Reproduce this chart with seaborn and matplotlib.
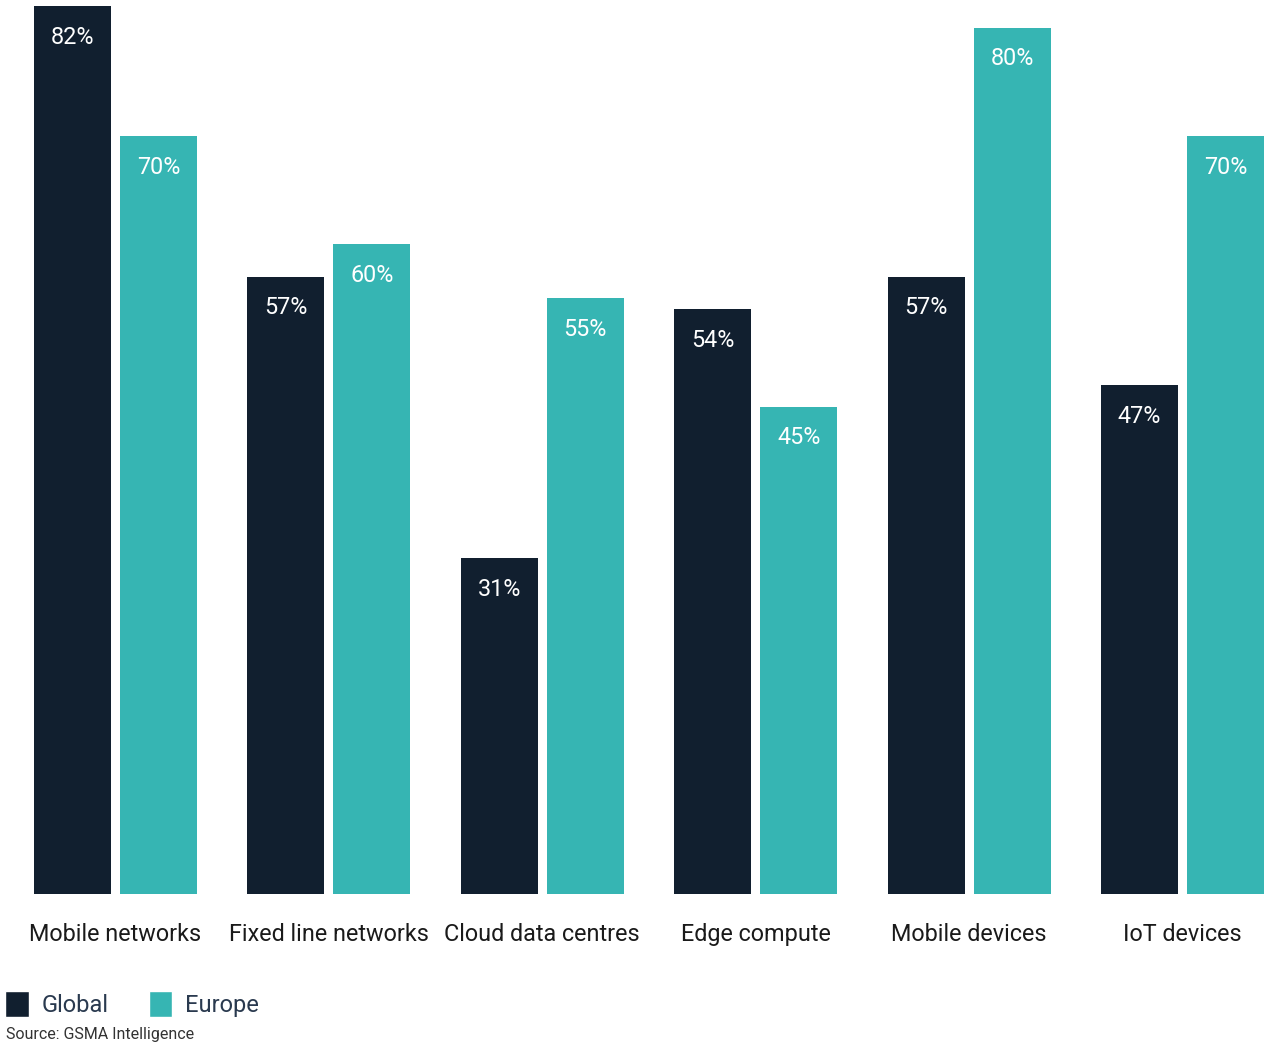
import matplotlib
matplotlib.use("Agg")
import matplotlib.pyplot as plt
from matplotlib.patches import Patch
import seaborn as sns
import pandas as pd

categories = ["Mobile networks", "Fixed line networks", "Cloud data centres",
              "Edge compute", "Mobile devices", "IoT devices"]
global_vals = [82, 57, 31, 54, 57, 47]
europe_vals = [70, 60, 55, 45, 80, 70]
series_names = ["Global", "Europe"]
source_text = "Source: GSMA Intelligence"

NAVY = "#111f2f"
TEAL = "#36b5b3"

df = pd.DataFrame({
    "category": categories * 2,
    "region": [series_names[0]] * len(categories) + [series_names[1]] * len(categories),
    "value": global_vals + europe_vals,
})

sns.set_theme(style="white")
plt.rcParams["font.family"] = ["Roboto", "DejaVu Sans"]

W, H = 1268, 1045
STEP = 213.4  # pixels per category
fig = plt.figure(figsize=(W / 100, H / 100), dpi=100)
ax = fig.add_axes([0, 151 / H, 1, 888 / H])

sns.barplot(data=df, x="category", y="value", hue="region",
            palette=[NAVY, TEAL], width=0.806, gap=0.105,
            saturation=1, legend=False, ax=ax, errorbar=None, linewidth=0)

ax.set_xlim(-115.5 / STEP, (W - 115.5) / STEP)
ax.set_ylim(0, 82)
ax.set_xlabel("")
ax.set_ylabel("")
ax.set_yticks([])
ax.tick_params(axis="x", length=0, pad=21, labelsize=16.8, labelcolor="#1a1a1a")
for s in ax.spines.values():
    s.set_visible(False)

# value labels inside the top of each bar
for container in ax.containers:
    for bar in container:
        h = bar.get_height()
        ax.annotate(f"{h:.0f}%", (bar.get_x() + bar.get_width() / 2, h),
                    xytext=(0, -22.5), textcoords="offset points",
                    ha="center", va="center", color="white", fontsize=16.8)

handles = [Patch(facecolor=NAVY, label=series_names[0]),
           Patch(facecolor=TEAL, label=series_names[1])]
fig.legend(handles=handles, loc="center left",
           bbox_to_anchor=(5 / W, 41 / H), ncol=2, frameon=False,
           fontsize=17, handlelength=1.0, handleheight=1.35,
           handletextpad=0.55, columnspacing=1.7, borderpad=0.0,
           borderaxespad=0.0, labelcolor="#2a3a4f")

fig.text(6 / W, 11 / H, source_text, ha="left", va="center",
         fontsize=11.5, color="#333333")

fig.savefig("out.png", dpi=100, facecolor="white")
